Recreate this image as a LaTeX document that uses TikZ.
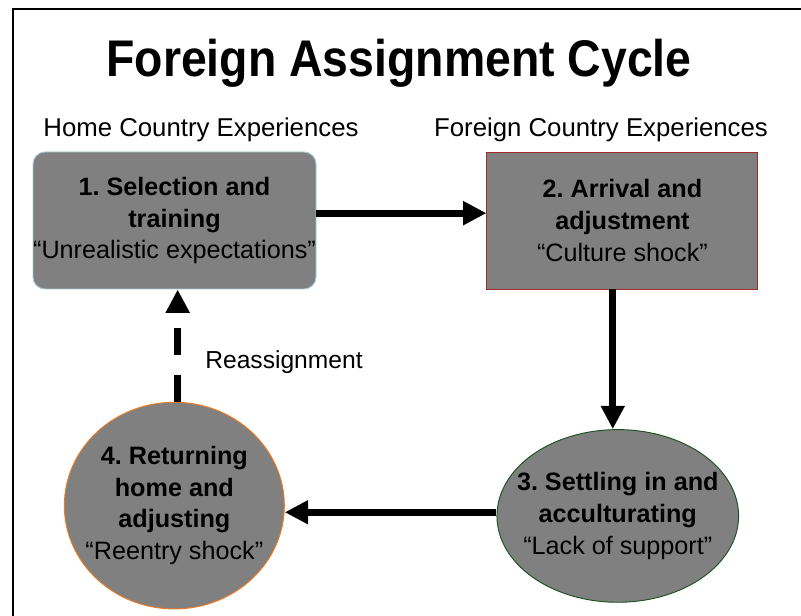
\documentclass[tikz,border=0pt]{standalone}
\usepackage{fontspec}
\setmainfont{Liberation Sans}
\usepackage{xcolor}
\usepackage{tikz}
\usetikzlibrary{positioning,arrows.meta,shapes.geometric}
\frenchspacing

\definecolor{stagegray}{RGB}{128,128,128}
\definecolor{boxblue}{RGB}{170,200,210}
\definecolor{boxred}{RGB}{165,40,40}
\definecolor{ovalgreen}{RGB}{30,80,30}
\definecolor{circorange}{RGB}{240,120,30}
\newcommand{\stagefont}{\fontsize{21.5pt}{27pt}\selectfont}

\begin{document}
\begin{tikzpicture}[
node distance=5cm,
stagetext/.style={align=center, inner sep=0pt, font=\stagefont},
stagebox/.style={stagetext, rectangle, fill=stagegray, line width=0.8pt,
  minimum width=8.49cm, minimum height=4.11cm},
stageoval/.style={ellipse, fill=stagegray, line width=0.8pt, inner sep=0pt},
heading/.style={inner sep=0pt, anchor=base, font=\fontsize{22pt}{26pt}\selectfont},
arr/.style={line width=0.21cm, -{Triangle[length=0.7cm,width=0.68cm]}}
]

\useasboundingbox (0,0) rectangle (24.03,-18.48);
\draw[line width=1.8pt] (0.39,-18.48) |- (24.03,-0.27);

\node (title) [inner sep=0pt, anchor=base, xscale=0.9, transform shape,
  font=\fontsize{44pt}{50pt}\bfseries] at (11.97,-2.31) {Foreign Assignment Cycle};

\node (home) [heading] at (6.03,-4.11) {Home Country Experiences};
\node (foreign) [heading] at (18.03,-4.11) {Foreign Country Experiences};

% the four stages
\node (b1) [stagebox, draw=boxblue, rounded corners=0.36cm] at (5.235,-6.615)
  {\textbf{1. Selection and}\\\textbf{training}\\“Unrealistic expectations”};
\node (b2) [stagebox, draw=boxred, minimum width=8.13cm, right=5.1cm of b1]
  {\textbf{2. Arrival and}\\\textbf{adjustment}\\“Culture shock”};

\node (e3) [stageoval, draw=ovalgreen, minimum width=7.25cm, minimum height=5.18cm,
  below=4.19cm of b2, xshift=-0.14cm] {};
\node (t3) [stagetext] at (e3) {\textbf{3. Settling in and}\\\textbf{acculturating}\\“Lack of support”};

\node (c4) [stageoval, draw=circorange, minimum width=6.6cm, minimum height=6.2cm,
  left=6.35cm of e3, yshift=0.31cm] {};
\node (t4) [stagetext] at (c4) {\textbf{4. Returning}\\\textbf{home and}\\\textbf{adjusting}\\“Reentry shock”};

\node (reassign) [heading, font=\fontsize{21pt}{25pt}\selectfont] at (8.52,-11.07) {Reassignment};

% arrows
\draw[arr] ([yshift=0.22cm]b1.east) -- ([yshift=0.22cm]b2.west);
\draw[arr] ([xshift=-0.29cm]b2.south) -- ([xshift=-0.29cm]b2.south |- e3.north);
\draw[arr] ([yshift=0.11cm]e3.west) -- ([yshift=0.11cm]e3.west -| c4.east);
\draw[arr, dash pattern=on 0.8cm off 0.6cm] ([xshift=0.1cm]c4.north) -- ([xshift=0.1cm]c4.north |- b1.south);

\end{tikzpicture}
\end{document}
